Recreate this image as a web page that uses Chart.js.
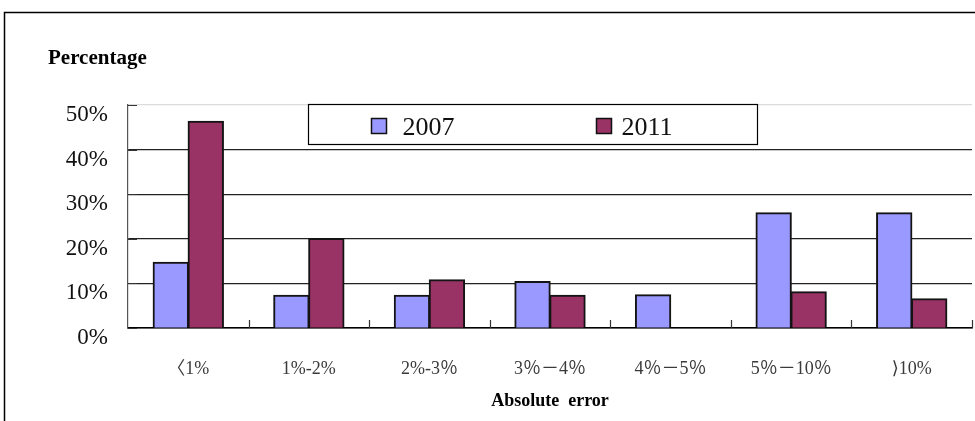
<!DOCTYPE html>
<html>
<head>
<meta charset="utf-8">
<script src="https://cdn.jsdelivr.net/npm/chart.js@4.4.1/dist/chart.umd.min.js"></script>
<style>
  html, body { margin: 0; padding: 0; background: #fff; }
  #wrap { width: 975px; height: 421px; position: relative; }
</style>
</head>
<body>
<div id="wrap"><canvas id="c" width="975" height="421"></canvas></div>
<script>
// Absolute error buckets and share of cases (%) per survey year
const categories = ['〈1%', '1%-2%', '2%-3％', '3％－4％', '4％－5％', '5％－10％', '⟩10%'];
const series2007 = [14.7, 7.3, 7.3, 10.4, 7.4, 25.8, 25.8];
const series2011 = [46.3, 20.0, 10.8, 7.3, 0, 8.1, 6.5];
const seriesNames = ['2007', '2011'];
const yTickValues = [0, 10, 20, 30, 40, 50];

const SERIF = '"Liberation Serif", "Times New Roman", serif';
const LABEL_FONT = '"Liberation Serif", "DejaVu Serif", "Noto Sans CJK SC", serif';

// Frame, y-axis caption, inward tick marks and the boxed legend
const decor = {
  id: 'decor',
  beforeDraw(chart) {
    const ctx = chart.ctx;
    ctx.save();
    ctx.fillStyle = '#fff';
    ctx.fillRect(0, 0, chart.width, chart.height);
    ctx.strokeStyle = '#000';
    ctx.lineWidth = 1.5;
    ctx.beginPath();
    ctx.moveTo(4.5, chart.height);
    ctx.lineTo(4.5, 12.5);
    ctx.lineTo(chart.width, 12.5);
    ctx.stroke();
    ctx.fillStyle = '#000';
    ctx.font = 'bold 21px ' + SERIF;
    ctx.textBaseline = 'alphabetic';
    ctx.textAlign = 'left';
    ctx.fillText('Percentage', 48, 64);
    ctx.restore();
  },
  afterDatasetsDraw(chart) {
    const ctx = chart.ctx;
    const xs = chart.scales.x, ys = chart.scales.y;
    const area = chart.chartArea;
    ctx.save();
    ctx.strokeStyle = '#333';
    ctx.lineWidth = 1.2;
    // category boundary ticks pointing up from the base line
    const n = categories.length;
    const step = (xs.right - xs.left) / n;
    ctx.beginPath();
    for (let i = 1; i <= n; i++) {
      const x = Math.round(xs.left + i * step) + 0.5;
      ctx.moveTo(x, area.bottom);
      ctx.lineTo(x, area.bottom - 8);
    }
    // value ticks pointing right from the left axis
    yTickValues.forEach(v => {
      const y = Math.round(ys.getPixelForValue(v)) + 0.5;
      ctx.moveTo(area.left, y);
      ctx.lineTo(area.left + 9, y);
    });
    ctx.stroke();

    // legend box
    const box = { x: 308.5, y: 104.5, w: 449, h: 40 };
    ctx.fillStyle = '#fff';
    ctx.fillRect(box.x, box.y, box.w, box.h);
    ctx.strokeStyle = '#000';
    ctx.lineWidth = 1.2;
    ctx.strokeRect(box.x, box.y, box.w, box.h);
    const itemX = [box.x + 63, box.x + 288];
    const textGap = [31, 25];
    ctx.font = '26px ' + SERIF;
    ctx.textBaseline = 'alphabetic';
    ctx.textAlign = 'left';
    chart.data.datasets.forEach((ds, i) => {
      const sx = itemX[i];
      ctx.fillStyle = ds.backgroundColor;
      ctx.fillRect(sx, 118.5, 15, 15);
      ctx.strokeStyle = '#111';
      ctx.lineWidth = 1.5;
      ctx.strokeRect(sx, 118.5, 15, 15);
      ctx.fillStyle = '#111';
      ctx.fillText(ds.label, sx + textGap[i], 134.5);
    });
    ctx.restore();
  }
};

new Chart(document.getElementById('c'), {
  type: 'bar',
  data: {
    labels: categories,
    datasets: [
      { label: seriesNames[0], data: series2007, backgroundColor: '#9999FF' },
      { label: seriesNames[1], data: series2011, backgroundColor: '#993366' }
    ]
  },
  options: {
    responsive: false,
    animation: false,
    devicePixelRatio: 1,
    layout: { autoPadding: false, padding: { top: 105, right: 3, left: 0, bottom: 0 } },
    datasets: {
      bar: {
        categoryPercentage: 0.58,
        barPercentage: 1.0,
        borderColor: '#141414',
        borderWidth: 2,
        inflateAmount: 0.7,
        borderSkipped: 'start'
      }
    },
    plugins: {
      legend: { display: false },
      tooltip: { enabled: false },
      title: { display: false }
    },
    scales: {
      x: {
        afterFit(scale) { scale.height = 93; },
        grid: { display: false, drawTicks: false },
        border: { display: true, color: '#000', width: 1.5 },
        ticks: {
          color: '#3a3a3a',
          padding: 30,
          maxRotation: 0,
          autoSkip: false,
          font: { family: LABEL_FONT, size: 18 }
        },
        title: {
          display: true,
          text: 'Absolute  error',
          color: '#000',
          font: { family: SERIF, size: 18, weight: 'bold' },
          padding: { top: 0, bottom: 9 }
        }
      },
      y: {
        min: 0,
        max: 50,
        afterFit(scale) { scale.width = 128; },
        afterBuildTicks(scale) { scale.ticks = yTickValues.map(v => ({ value: v })); },
        grid: {
          drawTicks: false,
          lineWidth: 1.2,
          color: ctx => (ctx.tick && ctx.tick.value === 50) ? '#dcdcdc' : '#222'
        },
        border: { display: true, color: '#555', width: 1.2 },
        ticks: {
          padding: 20,
          labelOffset: 10,
          color: '#111',
          font: { family: SERIF, size: 23 },
          callback: v => v + '%'
        }
      }
    }
  },
  plugins: [decor]
});
</script>
</body>
</html>
